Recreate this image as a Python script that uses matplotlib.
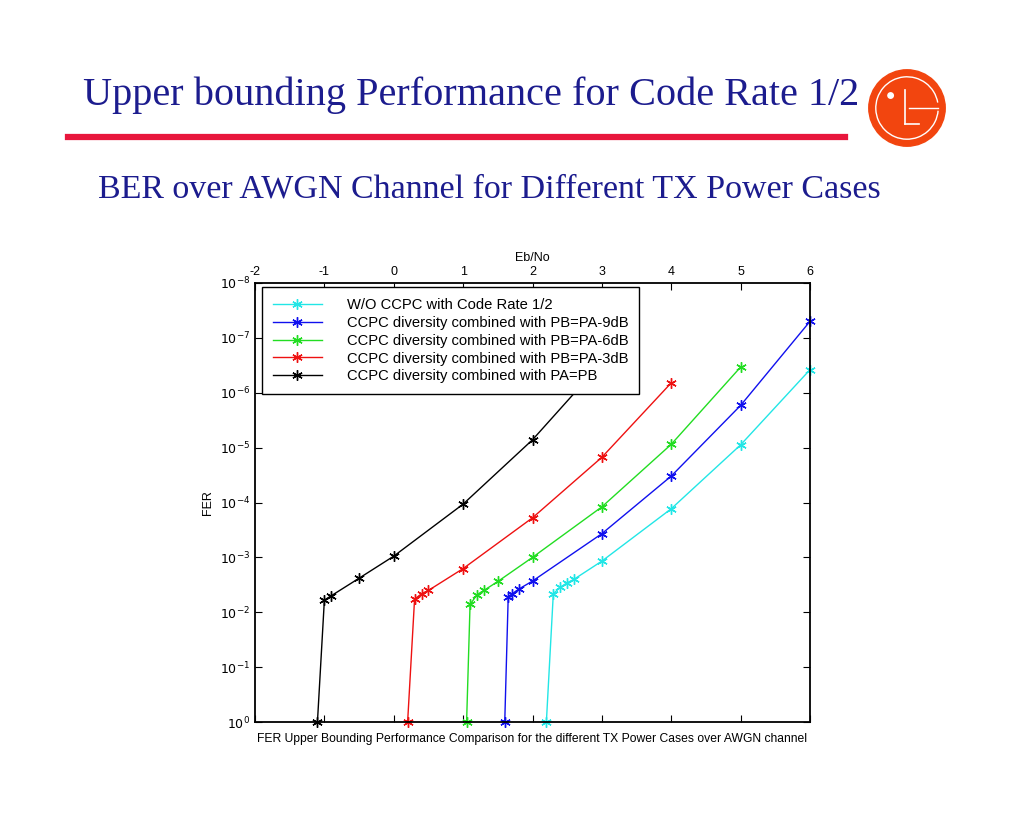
import math
import matplotlib
matplotlib.use("Agg")
import matplotlib.pyplot as plt
from matplotlib.patches import Circle, Arc
from matplotlib.lines import Line2D

# ---- data ----
title = "Upper bounding Performance for Code Rate 1/2"
subtitle = "BER over AWGN Channel for Different TX Power Cases"
caption = "FER Upper Bounding Performance Comparison for the different TX Power Cases over AWGN channel"
x_label = "Eb/No"
y_label = "FER"

labels = [
    "W/O CCPC with Code Rate 1/2",
    "CCPC diversity combined with PB=PA-9dB",
    "CCPC diversity combined with PB=PA-6dB",
    "CCPC diversity combined with PB=PA-3dB",
    "CCPC diversity combined with PA=PB",
]
colors = ["#22e6e6", "#1010ee", "#22dd22", "#ee1111", "#000000"]

x_cyan = [2.2, 2.3, 2.4, 2.5, 2.6, 3, 4, 5, 6]
fer_cyan = [1, 4.6e-3, 3.5e-3, 2.9e-3, 2.5e-3, 1.17e-3, 1.3e-4, 8.9e-6, 3.8e-7]

x_blue = [1.6, 1.65, 1.7, 1.8, 2, 3, 4, 5, 6]
fer_blue = [1, 5.2e-3, 4.7e-3, 3.8e-3, 2.7e-3, 3.7e-4, 3.3e-5, 1.7e-6, 5.0e-8]

x_green = [1.05, 1.1, 1.2, 1.3, 1.5, 2, 3, 4, 5]
fer_green = [1, 7.2e-3, 4.8e-3, 4.0e-3, 2.75e-3, 1.0e-3, 1.2e-4, 8.7e-6, 3.4e-7]

x_red = [0.2, 0.3, 0.4, 0.5, 1, 2, 3, 4]
fer_red = [1, 5.8e-3, 4.6e-3, 4.0e-3, 1.6e-3, 1.9e-4, 1.5e-5, 6.6e-7]

x_black = [-1.1, -1.0, -0.9, -0.5, 0, 1, 2, 3]
fer_black = [1, 6.0e-3, 5.0e-3, 2.4e-3, 9.5e-4, 1.07e-4, 7.2e-6, 2.8e-7]

series_x = [x_cyan, x_blue, x_green, x_red, x_black]
series_y = [fer_cyan, fer_blue, fer_green, fer_red, fer_black]

x_ticks = [-2, -1, 0, 1, 2, 3, 4, 5, 6]
y_ticks = [1e0, 1e-1, 1e-2, 1e-3, 1e-4, 1e-5, 1e-6, 1e-7, 1e-8]

# ---- figure ----
W, H = 1024, 819
fig = plt.figure(figsize=(W / 100, H / 100), dpi=100)
fig.patch.set_facecolor("white")

def fx(px):
    return px / W

def fy(py):
    return 1 - py / H

serif = ["Liberation Serif", "DejaVu Serif"]
sans = ["Liberation Sans", "DejaVu Sans"]
navy = "#1c1c8e"

fig.text(fx(471), fy(95), title, ha="center", va="center", fontsize=29,
         family=serif, color=navy)
fig.text(fx(489), fy(189), subtitle, ha="center", va="center", fontsize=24.5,
         family=serif, color=navy)

# red rule
fig.add_artist(Line2D([fx(68), fx(845)], [fy(137), fy(137)], color="#e8163c",
                      lw=4.5, transform=fig.transFigure))

# LG logo
logo = fig.add_axes([fx(868), fy(147), fx(78), 78 / H])
logo.set_xlim(-1, 1)
logo.set_ylim(-1, 1)
logo.set_aspect("equal")
logo.axis("off")
logo.add_patch(Circle((0, 0), 0.98, color="#f2450f"))
logo.add_patch(Arc((0, 0), 1.6, 1.6, theta1=10, theta2=355, color="white", lw=1))
logo.plot([0.05, 0.8], [0.0, 0.0], color="white", lw=1)
logo.plot([-0.05, -0.05], [0.45, -0.4], color="white", lw=1.2)
logo.plot([-0.05, 0.3], [-0.4, -0.4], color="white", lw=1.2)
logo.add_patch(Circle((-0.42, 0.32), 0.07, color="white"))

# main axes: left 255, right 810, top 283, bottom 722
ax = fig.add_axes([fx(255), fy(722), fx(810 - 255), (722 - 283) / H])
ax.set_yscale("log")
ax.set_xlim(-2, 6)
ax.set_ylim(1e0, 1e-8)

for xs, ys, c, lab in zip(series_x, series_y, colors, labels):
    ax.plot(xs, ys, color=c, lw=1.0, marker=(6, 2, 0), markersize=7.5,
            markeredgewidth=1.0, label=lab, clip_on=False)

ax.set_xticks(x_ticks)
ax.set_xticklabels([str(t) for t in x_ticks])
ax.set_yticks(y_ticks)
ax.set_yticklabels([r"$10^{%d}$" % round(math.log10(t)) for t in y_ticks])
ax.minorticks_off()
ax.tick_params(axis="both", direction="in", length=5, width=0.8,
               top=True, bottom=True, left=True, right=True,
               labeltop=True, labelbottom=False, labelsize=9)
for lab in ax.get_xticklabels() + ax.get_yticklabels():
    lab.set_family(sans)
for s in ax.spines.values():
    s.set_linewidth(1.3)

ax.xaxis.set_label_position("top")
ax.set_xlabel(x_label, fontsize=9, family=sans, labelpad=4)
ax.set_ylabel(y_label, fontsize=9, family=sans, labelpad=4)

leg = ax.legend(loc="upper left", bbox_to_anchor=(7 / 555, 1 - 4 / 439),
                borderaxespad=0, fancybox=False, framealpha=1,
                edgecolor="black", prop={"family": sans, "size": 10.6},
                handlelength=3.3, handletextpad=1.7, labelspacing=0.26,
                borderpad=0.75)
leg.get_frame().set_linewidth(1.0)

fig.text(fx(532), fy(739), caption, ha="center", va="center", fontsize=8.7,
         family=sans)

fig.savefig("out.png", dpi=100, facecolor="white")
